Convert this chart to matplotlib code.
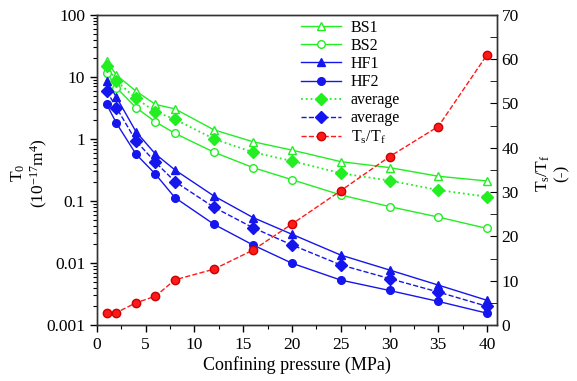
import matplotlib
matplotlib.use("Agg")
import matplotlib.pyplot as plt
from matplotlib.ticker import FuncFormatter, LogLocator, MultipleLocator

plt.rcParams['font.family'] = ['Liberation Serif', 'DejaVu Serif']
plt.rcParams['mathtext.default'] = 'regular'
plt.rcParams['font.size'] = 12

# confining pressure (MPa)
pressure = [1, 2, 4, 6, 8, 12, 16, 20, 25, 30, 35, 40]

# T0 (10^-17 m^4)
bs1 = [18, 10.7, 5.9, 3.6, 3.05, 1.4, 0.9, 0.66, 0.43, 0.345, 0.25, 0.21]
bs2 = [11.7, 6.7, 3.2, 1.88, 1.23, 0.61, 0.345, 0.22, 0.125, 0.081, 0.055, 0.036]
bs_avg = [15, 8.6, 4.5, 2.75, 2.07, 1.0, 0.61, 0.44, 0.28, 0.213, 0.15, 0.117]
hf1 = [8.6, 4.7, 1.31, 0.57, 0.316, 0.12, 0.054, 0.029, 0.0134, 0.0077, 0.0044, 0.0025]
hf2 = [3.6, 1.79, 0.57, 0.27, 0.113, 0.042, 0.0195, 0.0099, 0.0053, 0.0036, 0.0024, 0.00155]
hf_avg = [5.9, 3.2, 0.93, 0.42, 0.205, 0.079, 0.037, 0.0195, 0.0093, 0.0056, 0.0034, 0.002]

# ratio Ts/Tf
ratio = [2.6, 2.8, 5.0, 6.5, 10.2, 12.6, 16.9, 22.8, 30.3, 38.0, 44.8, 61.0]

green = '#22ee22'
blue = '#1515ee'
red = '#ff1a1a'

fig = plt.figure(figsize=(5.77, 3.81), dpi=100)
ax = fig.add_axes([0.168, 0.147, 0.693, 0.814])
ax2 = ax.twinx()

l1, = ax.plot(pressure, bs1, '-', color=green, lw=1, marker='^', ms=6,
              mfc='white', mec=green, label='BS1')
l2, = ax.plot(pressure, bs2, '-', color=green, lw=1, marker='o', ms=5.5,
              mfc='white', mec=green, label='BS2')
l3, = ax.plot(pressure, hf1, '-', color=blue, lw=1, marker='^', ms=6,
              mfc=blue, mec=blue, label='HF1')
l4, = ax.plot(pressure, hf2, '-', color=blue, lw=1, marker='o', ms=5.5,
              mfc=blue, mec=blue, label='HF2')
l5, = ax.plot(pressure, bs_avg, ':', color=green, lw=1.3, marker='D', ms=6,
              mfc=green, mec=green, label='average')
l6, = ax.plot(pressure, hf_avg, '--', color=blue, lw=1, marker='D', ms=6,
              mfc=blue, mec=blue, label='average')
l7, = ax2.plot(pressure, ratio, '--', color=red, lw=1, marker='o', ms=6,
               mfc=red, mec='#cc0000', label='T$_s$/T$_f$')

ax.set_yscale('log')
ax.set_ylim(0.001, 100)
ax.set_xlim(0, 41)
ax2.set_ylim(0, 70)

ax.xaxis.set_major_locator(MultipleLocator(5))
ax.xaxis.set_minor_locator(MultipleLocator(2.5))
ax.yaxis.set_major_locator(LogLocator(base=10))
ax.yaxis.set_minor_locator(LogLocator(base=10, subs=range(2, 10)))
ax.yaxis.set_major_formatter(FuncFormatter(lambda v, p: '%g' % v))
ax2.yaxis.set_major_locator(MultipleLocator(10))
ax2.yaxis.set_minor_locator(MultipleLocator(5))

ax.tick_params(axis='both', which='major', direction='out', length=5, width=1, labelsize=12.5)
ax.tick_params(axis='both', which='minor', direction='out', length=3, width=0.8)
ax.tick_params(axis='x', top=False, which='both')
ax2.tick_params(axis='y', which='major', direction='in', length=5, labelsize=12.5)
ax2.tick_params(axis='y', which='minor', direction='in', length=5)

for a in (ax, ax2):
    for s in a.spines.values():
        s.set_linewidth(1)
        s.set_color('#333333')

ax.set_xlabel('Confining pressure (MPa)', fontsize=13, labelpad=2)
ax.set_ylabel('T$_0$\n(10$^{-17}$m$^4$)', fontsize=12.5, linespacing=1.1)
ax.yaxis.set_label_coords(-0.118, 0.49)
ax2.set_ylabel('T$_s$/T$_f$\n(-)', fontsize=12.5, linespacing=1.1)
ax2.yaxis.set_label_coords(1.095, 0.49)

ax2.legend(handles=[l1, l2, l3, l4, l5, l6, l7], loc='upper left',
           bbox_to_anchor=(0.475, 1.03), frameon=False, fontsize=11.5,
           handlelength=2.5, labelspacing=0.13, handletextpad=0.6)

fig.savefig('out.png', dpi=100)
